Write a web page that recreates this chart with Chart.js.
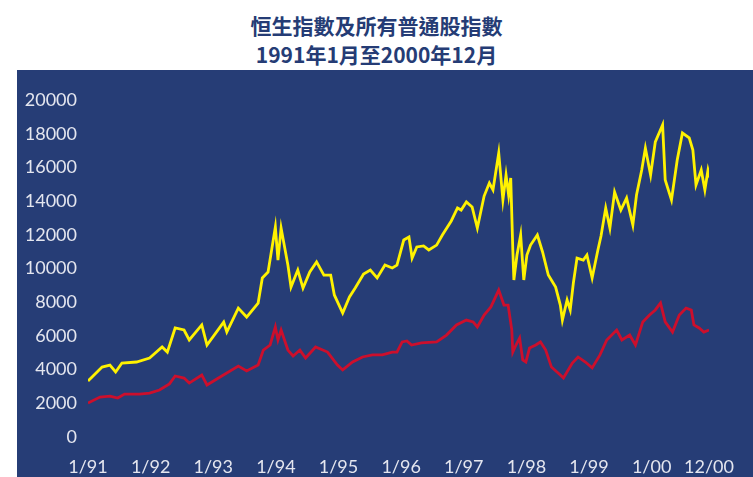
<!DOCTYPE html>
<html>
<head>
<meta charset="utf-8">
<script src="https://cdn.jsdelivr.net/npm/chart.js@4/dist/chart.umd.min.js"></script>
<style>
  body { margin: 0; background: #fff; width: 753px; height: 477px; overflow: hidden; position: relative; }
  .title {
    position: absolute; left: 0; top: 11px; width: 753px; text-align: center;
    font-family: "Noto Sans CJK TC", sans-serif; font-weight: bold; font-size: 21px;
    line-height: 29px; color: #253c75;
  }
  .panel { position: absolute; left: 17px; top: 70px; width: 736px; height: 407px; background: #263d76; }
</style>
</head>
<body>
<div class="title">恒生指數及所有普通股指數<br>1991年1月至2000年12月</div>
<div class="panel"><canvas id="chart" width="736" height="407"></canvas></div>
<script>
// x positions are months since Jan 1991
const xTickMonths = [0, 12, 24, 36, 48, 60, 72, 84, 96, 108, 119];
const xTickLabels = ["1/91", "1/92", "1/93", "1/94", "1/95", "1/96", "1/97", "1/98", "1/99", "1/00", "12/00"];

const hsiMonths = [0, 2.7, 4.2, 5.3, 6.5, 9.3, 11.8, 14.2, 15.2, 16.7, 18.4, 19.4, 21.8, 22.8, 26.0, 26.6,
  28.8, 30.4, 32.6, 33.4, 34.5, 35.9, 36.4, 37.0, 38.3, 38.9, 40.2, 41.2, 42.5, 43.8, 45.2, 46.5,
  47.2, 48.8, 50.1, 51.2, 52.8, 54.1, 55.4, 56.9, 58.3, 59.2, 60.5, 61.5, 62.1, 63.0, 64.3, 65.3,
  66.8, 67.9, 69.6, 70.8, 71.5, 72.5, 73.6, 74.6, 75.9, 76.9, 77.6, 78.7, 79.5, 80.1, 80.6, 81.0,
  81.4, 81.6, 82.2, 82.9, 83.5, 84.1, 84.8, 86.1, 87.1, 88.2, 89.6, 90.5, 90.9, 91.8, 92.4, 93.0,
  93.7, 94.9, 95.6, 96.6, 97.7, 98.3, 99.2, 100.0, 100.9, 102.1, 103.2, 104.4, 105.1, 106.1, 106.8,
  107.8, 108.7, 110.1, 110.6, 111.8, 112.9, 113.9, 115.2, 115.9, 116.5, 117.5, 118.2, 118.8, 119.2];
const hsiValues = [3320, 4150, 4270, 3860, 4390, 4450, 4690, 5340, 5040, 6470, 6350, 5760, 6650, 5460, 6820, 6230,
  7650, 7120, 7950, 9440, 9790, 12460, 10500, 12400, 10210, 8900, 9910, 8840, 9790, 10390, 9610, 9610,
  8430, 7360, 8310, 8840, 9670, 9910, 9440, 10210, 10030, 10200, 11690, 11870, 10620, 11280, 11340, 11100,
  11390, 11990, 12820, 13590, 13470, 13950, 13650, 12400, 14300, 15070, 14660, 16850, 14070, 15550, 14360, 15370,
  11100, 9320, 10800, 11990, 9320, 10800, 11390, 11990, 10980, 9610, 8900, 7830, 6940, 8130, 7540, 9140,
  10620, 10500, 10800, 9440, 11100, 11930, 13590, 12400, 14540, 13470, 14180, 12580, 14360, 15850, 17150,
  15550, 17510, 18520, 15250, 14070, 16440, 18040, 17750, 17030, 14960, 15850, 14660, 15850, 15370];

const allOrdMonths = [0, 2.3, 4.2, 5.7, 7.0, 9.9, 11.8, 13.7, 15.6, 16.7, 18.4, 19.4, 21.8, 22.8, 25.0,
  28.8, 30.4, 32.6, 33.6, 34.9, 35.9, 36.4, 37.0, 38.3, 39.3, 40.6, 41.7, 43.6, 45.9, 47.8, 48.8,
  50.7, 52.6, 54.5, 56.4, 58.3, 59.2, 60.2, 61.1, 62.0, 63.9, 66.8, 68.7, 70.6, 72.5, 73.8, 74.6,
  75.9, 77.2, 78.7, 79.7, 80.5, 81.2, 81.4, 82.0, 82.7, 83.3, 83.9, 84.6, 85.8, 86.7, 87.7, 88.8,
  90.5, 91.1, 92.8, 93.9, 95.3, 96.6, 98.1, 99.4, 101.3, 102.3, 103.8, 104.9, 106.3, 107.6, 108.7,
  109.7, 110.6, 112.0, 113.3, 114.6, 115.6, 116.1, 117.1, 118.0, 119.0];
const allOrdValues = [2020, 2370, 2430, 2310, 2550, 2550, 2610, 2790, 3150, 3620, 3500, 3200, 3680, 3090, 3500,
  4210, 3920, 4270, 5160, 5460, 6530, 5760, 6350, 5160, 4810, 5160, 4690, 5340, 5040, 4270, 3980,
  4450, 4750, 4870, 4870, 5040, 5040, 5640, 5700, 5460, 5580, 5640, 6050, 6650, 6940, 6830, 6530,
  7240, 7720, 8720, 7830, 7830, 6350, 5040, 5460, 5880, 4570, 4450, 5280, 5460, 5640, 5160, 4150,
  3680, 3500, 4390, 4750, 4450, 4100, 4870, 5760, 6350, 5760, 6050, 5460, 6830, 7240, 7540,
  7950, 6830, 6230, 7240, 7650, 7540, 6650, 6470, 6230, 6350];

const toPoints = (xs, ys) => xs.map((m, i) => ({ x: m, y: ys[i] }));

const tickFont = { family: "Lato, 'Open Sans', sans-serif", size: 18 };
const tickColor = "#e4e6ef";

new Chart(document.getElementById("chart"), {
  type: "line",
  data: {
    datasets: [
      { label: "恒生指數", data: toPoints(hsiMonths, hsiValues), borderColor: "#fff200", borderWidth: 2.8 },
      { label: "所有普通股指數", data: toPoints(allOrdMonths, allOrdValues), borderColor: "#cc0f2c", borderWidth: 2.8 }
    ]
  },
  options: {
    responsive: false,
    devicePixelRatio: 1,
    animation: false,
    layout: { padding: { top: 30, right: 38, bottom: 0, left: 0 } },
    elements: { point: { radius: 0 }, line: { tension: 0 } },
    plugins: { legend: { display: false }, tooltip: { enabled: false } },
    scales: {
      x: {
        type: "linear",
        min: 0,
        max: 119,
        grid: { display: false, drawTicks: false },
        border: { display: false },
        afterBuildTicks: (scale) => { scale.ticks = xTickMonths.map((v) => ({ value: v })); },
        afterFit: (scale) => { scale.height = 40; },
        ticks: {
          autoSkip: false,
          maxRotation: 0,
          padding: 19,
          color: tickColor,
          font: tickFont,
          callback: (v, i) => xTickLabels[i]
        }
      },
      y: {
        min: 0,
        max: 20000,
        grid: { display: false, drawTicks: false },
        border: { display: false },
        afterFit: (scale) => { scale.width = 71; },
        ticks: {
          stepSize: 2000,
          padding: 11,
          color: tickColor,
          font: tickFont,
          callback: (v) => String(v)
        }
      }
    }
  }
});
</script>
</body>
</html>
